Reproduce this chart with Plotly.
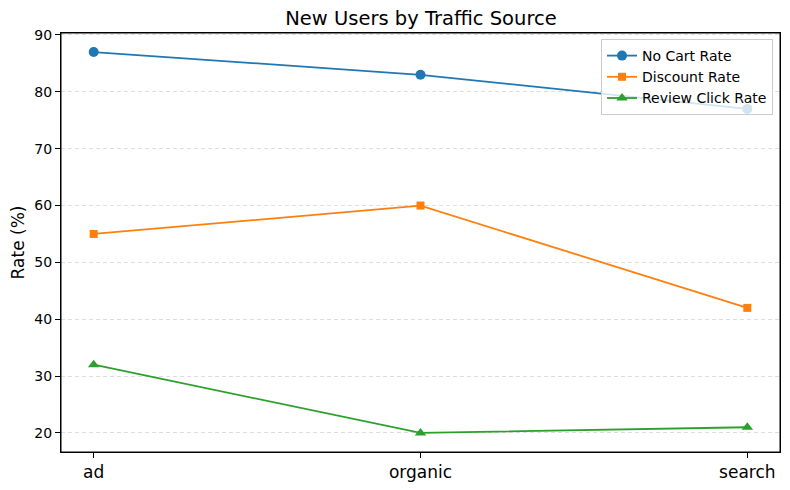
import plotly.graph_objects as go

categories = ["ad", "organic", "search"]
no_cart_rate = [87, 83, 77]
discount_rate = [55, 60, 42]
review_click_rate = [32, 20, 21]
y_ticks = [20, 30, 40, 50, 60, 70, 80, 90]

fig = go.Figure()
series = [
    ("No Cart Rate", no_cart_rate, "#1f77b4", "circle"),
    ("Discount Rate", discount_rate, "#ff7f0e", "square"),
    ("Review Click Rate", review_click_rate, "#2ca02c", "triangle-up"),
]
xpos = list(range(len(categories)))
for name, vals, color, sym in series:
    fig.add_trace(go.Scatter(
        x=xpos, y=vals, name=name, mode="lines+markers",
        line=dict(color=color, width=1.8),
        marker=dict(symbol=sym, size=10 if sym != "square" else 8, color=color),
    ))

# page body has an 8px margin, so the figure is shrunk by 8px and margins shifted
W, H = 782, 482
fig.update_layout(
    width=W, height=H,
    margin=dict(l=53, r=10, t=25, b=38, autoexpand=False),
    paper_bgcolor="white", plot_bgcolor="white",
    font=dict(family="DejaVu Sans", color="black"),
    title=dict(text="New Users by Traffic Source", x=(421 - 8) / W, xanchor="center",
               y=1 - 10 / H, yanchor="middle", font=dict(size=19.5)),
    xaxis=dict(
        range=[-0.1, 2.1], tickvals=xpos, ticktext=categories, automargin=False,
        showgrid=False, zeroline=False, showline=True, linecolor="black",
        linewidth=1, mirror=True, ticks="outside", ticklen=5, tickcolor="black",
        tickfont=dict(size=17),
    ),
    yaxis=dict(
        range=[16.65, 90.35], tickvals=y_ticks, automargin=False,
        showgrid=True, gridcolor="#dddddd", griddash="4px,3px", gridwidth=0.8,
        zeroline=False, showline=True, linecolor="black", linewidth=1,
        mirror=True, ticks="outside", ticklen=5, tickcolor="black",
        tickfont=dict(size=14),
        title=dict(text="Rate (%)", font=dict(size=17), standoff=8),
    ),
    legend=dict(
        x=1 - 7 / 719, y=1 - 6 / 419, xanchor="right", yanchor="top",
        bgcolor="rgba(255,255,255,0.8)", bordercolor="#cccccc", borderwidth=1,
        font=dict(size=14), tracegroupgap=0, itemwidth=30,
    ),
    shapes=[dict(type="rect", xref="paper", yref="paper", x0=0, y0=0, x1=1, y1=1,
                 line=dict(color="black", width=1), layer="above")],
    showlegend=True,
)

fig.write_html("out.html")
